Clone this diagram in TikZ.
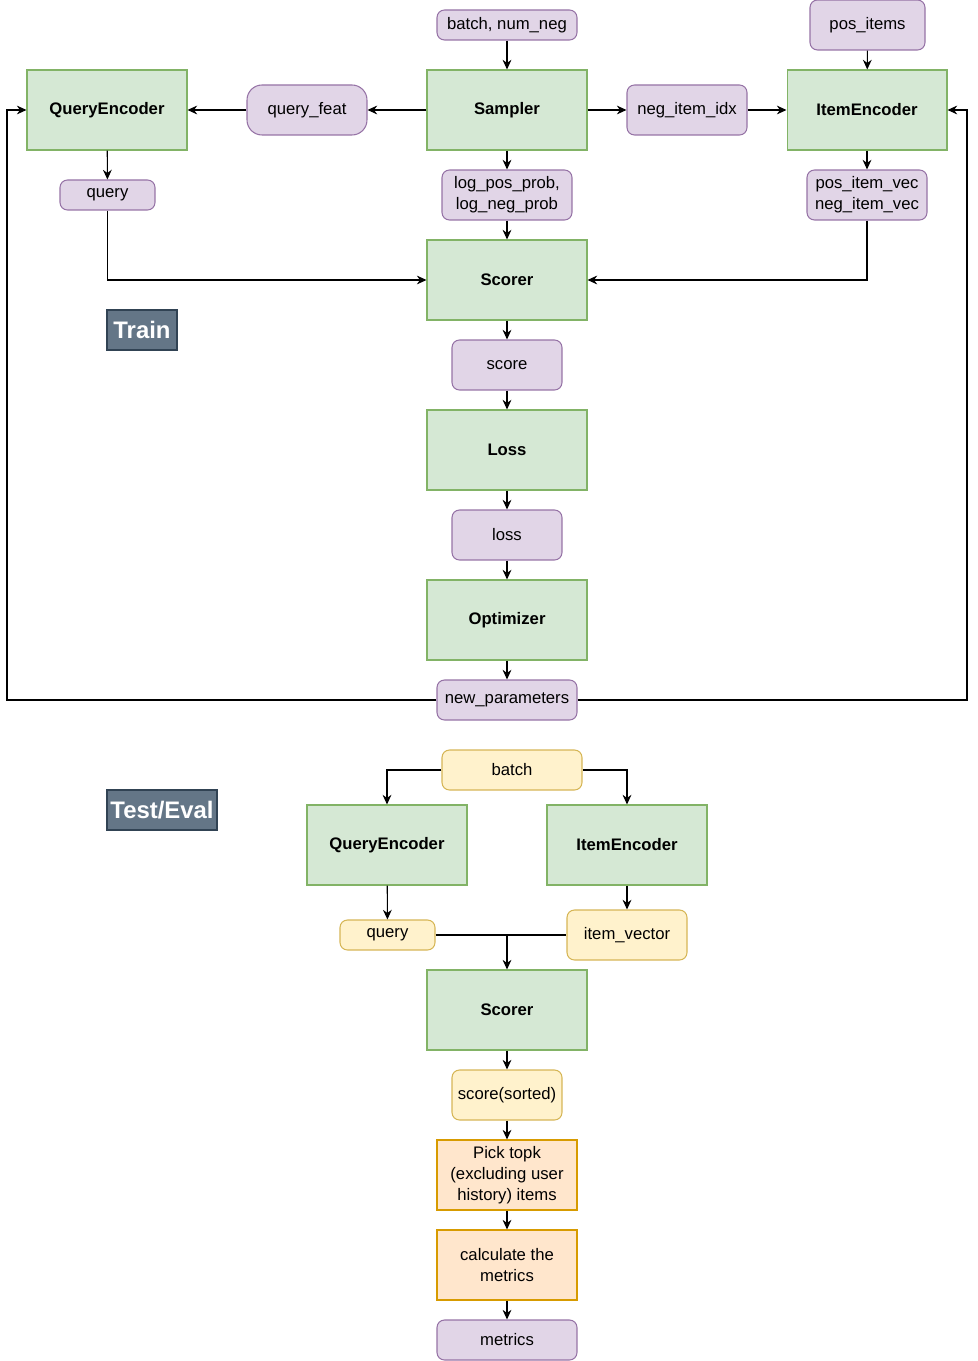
\documentclass[tikz,border=0pt]{standalone}
\usepackage{fontspec}
\setmainfont{Liberation Sans}
\usetikzlibrary{arrows.meta}

\definecolor{greenfill}{HTML}{D5E8D4}
\definecolor{greenline}{HTML}{82B366}
\definecolor{purplefill}{HTML}{E1D5E7}
\definecolor{purpleline}{HTML}{9673A6}
\definecolor{yellowfill}{HTML}{FFF2CC}
\definecolor{yellowline}{HTML}{D6B656}
\definecolor{orangefill}{HTML}{FFE6CC}
\definecolor{orangeline}{HTML}{D79B00}
\definecolor{tagfill}{HTML}{647687}
\definecolor{tagline}{HTML}{314354}

\begin{document}
\begin{tikzpicture}[
x=0.02cm, y=-0.02cm,
font=\fontsize{9.5}{11.8}\selectfont,
line width=0.6pt,
>={Stealth[length=5.5pt, width=5pt]},
procbox/.style={
draw=greenline,
fill=greenfill,
minimum width=3.2cm,
minimum height=1.6cm,
font=\fontsize{9.5}{11.8}\selectfont\bfseries,
},
databox/.style={
draw=purpleline,
fill=purplefill,
rounded corners=0.15cm,
align=center,
inner sep=0 pt,
},
evalbox/.style={
draw=yellowline,
fill=yellowfill,
rounded corners=0.15cm,
align=center,
inner sep=0 pt,
},
stepbox/.style={
draw=orangeline,
fill=orangefill,
align=center,
inner sep=0 pt,
minimum width=2.8cm,
minimum height=1.4cm,
},
tag/.style={
draw=tagline,
fill=tagfill,
text=white,
inner sep=0 pt,
minimum height=0.8cm,
font=\fontsize{13.6}{15}\selectfont\bfseries,
}
]
\useasboundingbox (0,0) rectangle (977,1361);

% train: upper row
\node [databox, minimum width=2.8cm, minimum height=0.6cm] at (507,25) (batchneg) {batch, num\_neg};
\node [databox, minimum width=2.3cm, minimum height=1.0cm] at (867.5,25) (positems) {pos\_items};
\node [procbox] at (107,110) (qenc) {QueryEncoder};
\node [databox, rounded corners=0.3cm, minimum width=2.4cm, minimum height=1.0cm] at (307,110) (qfeat) {query\_feat};
\node [procbox] at (507,110) (sampler) {Sampler};
\node [databox, minimum width=2.4cm, minimum height=1.0cm] at (687,110) (negidx) {neg\_item\_idx};
\node [procbox] at (867,110) (ienc) {ItemEncoder};

% train: encoder outputs
\node [databox, minimum width=1.9cm, minimum height=0.6cm] at (107.5,195) (query) {query};
\node [databox, minimum width=2.6cm, minimum height=1.0cm] at (507,195) (logprob) {log\_pos\_prob,\\log\_neg\_prob};
\node [databox, minimum width=2.4cm, minimum height=1.0cm] at (867,195) (itemvecs) {pos\_item\_vec\\neg\_item\_vec};

% train: main column
\node [procbox] at (507,280) (scorer) {Scorer};
\node [databox, minimum width=2.2cm, minimum height=1.0cm] at (507,365) (score) {score};
\node [procbox] at (507,450) (lossfn) {Loss};
\node [databox, minimum width=2.2cm, minimum height=1.0cm] at (507,535) (lossval) {loss};
\node [procbox] at (507,620) (optim) {Optimizer};
\node [databox, minimum width=2.8cm, minimum height=0.8cm] at (507,700) (newparams) {new\_parameters};
\node [tag, minimum width=1.4cm] at (142,330) (train) {Train};

\coordinate (loopL) at (7,700);
\coordinate (loopR) at (967,700);

\draw [->] (batchneg) -- (sampler);
\draw [->] (positems) -- (ienc);
\draw [->] (sampler) -- (qfeat);
\draw [->] (qfeat) -- (qenc);
\draw [->] (sampler) -- (negidx);
\draw [->] (negidx) -- (ienc);
\draw [->] (qenc) -- (query);
\draw [->] (sampler) -- (logprob);
\draw [->] (ienc) -- (itemvecs);
\draw [->] (logprob) -- (scorer);
\draw [->] (query) |- (scorer);
\draw [->] (itemvecs) |- (scorer);
\draw [->] (scorer) -- (score);
\draw [->] (score) -- (lossfn);
\draw [->] (lossfn) -- (lossval);
\draw [->] (lossval) -- (optim);
\draw [->] (optim) -- (newparams);
\draw [->] (newparams) -- (loopL) |- (qenc);
\draw [->] (newparams) -- (loopR) |- (ienc);

% test / eval
\node [evalbox, minimum width=2.8cm, minimum height=0.8cm] at (512,770) (batch) {batch};
\node [tag, minimum width=2.2cm] at (162,810) (testeval) {Test/Eval};
\node [procbox] at (387,845) (qenctest) {QueryEncoder};
\node [procbox] at (627,845) (ienctest) {ItemEncoder};
\node [evalbox, minimum width=1.9cm, minimum height=0.6cm] at (387.5,935) (querytest) {query};
\node [evalbox, minimum width=2.4cm, minimum height=1.0cm] at (627,935) (itemvec) {item\_vector};
\node [procbox] at (507,1010) (scorertest) {Scorer};
\node [evalbox, minimum width=2.2cm, minimum height=1.0cm] at (507,1095) (sorted) {score(sorted)};
\node [stepbox] at (507,1175) (topk) {Pick topk\\(excluding user\\history) items};
\node [stepbox] at (507,1265) (calc) {calculate the\\metrics};
\node [databox, minimum width=2.8cm, minimum height=0.8cm] at (507,1340) (metrics) {metrics};

\draw [->] (batch) -| (qenctest);
\draw [->] (batch) -| (ienctest);
\draw [->] (qenctest) -- (querytest);
\draw [->] (ienctest) -- (itemvec);
\draw (querytest) -- (itemvec);
\draw [->] (querytest -| scorertest) -- (scorertest);
\draw [->] (scorertest) -- (sorted);
\draw [->] (sorted) -- (topk);
\draw [->] (topk) -- (calc);
\draw [->] (calc) -- (metrics);

\end{tikzpicture}
\end{document}
